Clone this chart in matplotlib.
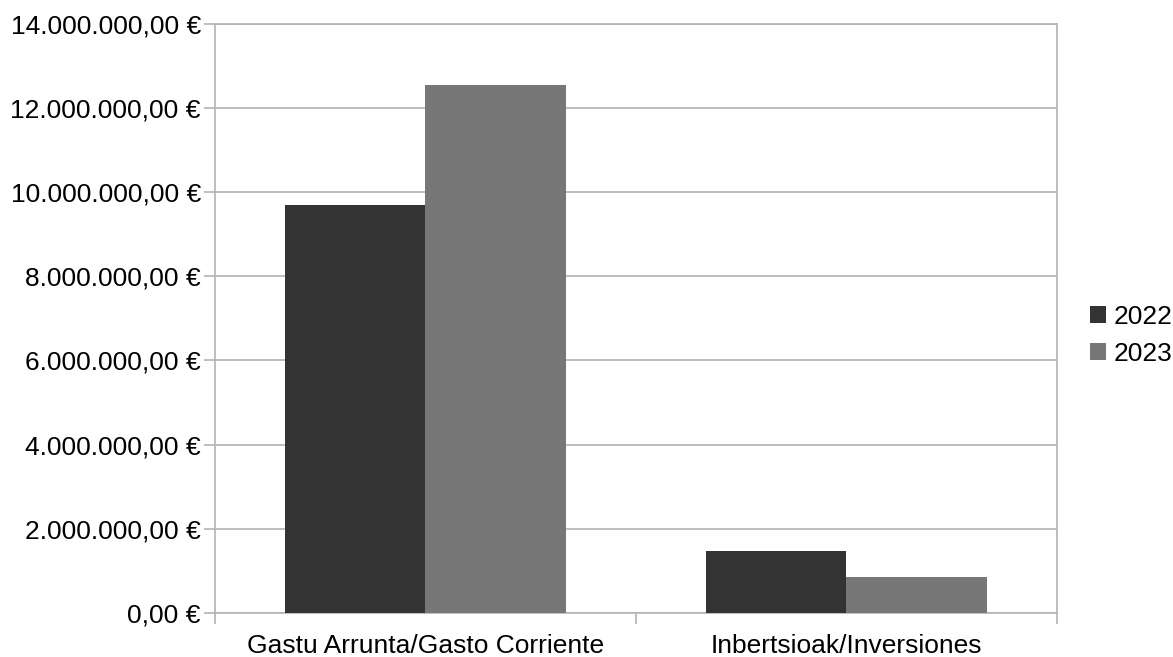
import matplotlib
matplotlib.use("Agg")
import matplotlib.pyplot as plt
from matplotlib.ticker import FuncFormatter, FixedLocator
from matplotlib.patches import Patch

categories = ["Gastu Arrunta/Gasto Corriente", "Inbertsioak/Inversiones"]
series_names = ["2022", "2023"]
values_2022 = [9700000, 1470000]
values_2023 = [12550000, 850000]
y_ticks = [0, 2000000, 4000000, 6000000, 8000000, 10000000, 12000000, 14000000]

colors = ["#333333", "#777777"]
grid_col = "#b3b3b3"

plt.rcParams['font.family'] = ['Liberation Sans', 'DejaVu Sans']

fig = plt.figure(figsize=(11.73, 6.57), dpi=100)
ax = fig.add_axes([0.1830, 0.0674, 0.7181, 0.8961])

x = list(range(len(categories)))
w = 1/3
ax.bar([i - w/2 for i in x], values_2022, width=w, color=colors[0], zorder=3)
ax.bar([i + w/2 for i in x], values_2023, width=w, color=colors[1], zorder=3)

ax.set_xlim(-0.5, len(categories) - 0.5)
ax.set_ylim(0, 14000000)

def fmt(v, pos):
    s = f"{v:,.2f}"
    s = s.replace(",", "X").replace(".", ",").replace("X", ".")
    return s + " €"

ax.yaxis.set_major_locator(FixedLocator(y_ticks))
ax.yaxis.set_major_formatter(FuncFormatter(fmt))
ax.set_xticks(x)
ax.set_xticklabels(categories)
ax.set_xticks([-0.5, 0.5, 1.5], minor=True)

ax.tick_params(axis='y', labelsize=19, length=8, width=1.2, color=grid_col, pad=2)
ax.tick_params(axis='x', which='major', labelsize=19, length=0, pad=15.5)
ax.tick_params(axis='x', which='minor', length=8, width=1.2, color=grid_col)

ax.grid(axis='y', color=grid_col, linewidth=1.2, zorder=0)
for s in ax.spines.values():
    s.set_color(grid_col)
    s.set_linewidth(1.2)

handles = [Patch(facecolor=c, edgecolor='none') for c in colors]
fig.legend(handles, series_names, loc='center left', bbox_to_anchor=(0.9295, 0.4893),
           frameon=False, fontsize=19, handlelength=0.6, handleheight=0.6,
           handletextpad=0.3, labelspacing=0.5, borderpad=0, borderaxespad=0)

fig.savefig("out.png", dpi=100)
